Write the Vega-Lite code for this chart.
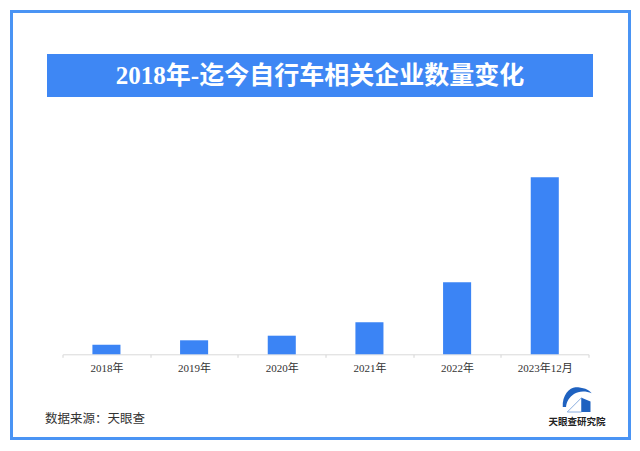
{
  "$schema": "https://vega.github.io/schema/vega-lite/v6.json",
  "width": 618,
  "height": 427,
  "autosize": {"type": "none"},
  "padding": {"left": 11.5, "top": 11.5, "right": 10.5, "bottom": 12.5},
  "background": "#ffffff",
  "config": {
    "view": {"stroke": "#4a94f4", "strokeWidth": 3, "fill": "#ffffff"},
    "font": "Liberation Serif, Noto Sans CJK SC"
  },
  "layer": [
    {
      "data": {"values": [{"title": "2018年-迄今自行车相关企业数量变化"}]},
      "layer": [
        {
          "mark": {"type": "rect", "color": "#3e87f4"},
          "encoding": {
            "x": {"datum": "banner", "type": "nominal", "scale": {"type": "band", "domain": ["banner"], "range": [35.5, 581.5], "paddingInner": 0, "paddingOuter": 0}, "axis": null},
            "y": {"datum": "banner", "type": "nominal", "scale": {"type": "band", "domain": ["banner"], "range": [42.5, 85.5], "paddingInner": 0, "paddingOuter": 0}, "axis": null}
          }
        },
        {
          "mark": {"type": "text", "color": "#ffffff", "fontSize": 25, "fontWeight": "bold", "font": "Liberation Serif, Noto Sans CJK SC", "baseline": "middle", "align": "center"},
          "encoding": {
            "x": {"datum": "banner", "type": "nominal", "axis": null},
            "y": {"datum": "banner", "type": "nominal", "axis": null},
            "text": {"field": "title"}
          }
        }
      ]
    },
    {
      "data": {"values": [
        {"year": "2018年", "count": 9.5},
        {"year": "2019年", "count": 14},
        {"year": "2020年", "count": 18.6},
        {"year": "2021年", "count": 32},
        {"year": "2022年", "count": 72},
        {"year": "2023年12月", "count": 177}
      ]},
      "layer": [
        {
          "mark": {"type": "bar", "color": "#3b84f5", "width": {"band": 0.32}},
          "encoding": {
            "x": {
              "field": "year", "type": "nominal", "sort": null,
              "scale": {"type": "band", "range": [51.1, 577.1], "paddingInner": 0, "paddingOuter": 0},
              "axis": {
                "orient": "bottom", "offset": -84.2, "title": null, "labelAngle": 0,
                "domainColor": "#d9d9d9", "domainWidth": 1,
                "tickBand": "extent", "tickSize": 3, "tickColor": "#d4d4d4", "tickWidth": 1,
                "labelFont": "Liberation Serif, Noto Sans CJK SC", "labelFontSize": 11, "labelColor": "#333333",
                "labelPadding": 5, "grid": false
              }
            },
            "y": {"field": "count", "type": "quantitative", "scale": {"domain": [0, 177], "range": [342.8, 165.8], "nice": false, "zero": true}, "axis": null}
          }
        }
      ]
    },
    {
      "data": {"values": [{"source": "数据来源：天眼查", "brand": "天眼查研究院"}]},
      "layer": [
        {
          "mark": {"type": "text", "align": "left", "baseline": "middle", "fontSize": 12.5, "color": "#333333", "font": "Noto Sans CJK SC"},
          "encoding": {
            "x": {"datum": "source", "type": "nominal", "scale": {"type": "point", "domain": ["source", "logo"], "range": [33.5, 565.5], "padding": 0}, "axis": null},
            "y": {"datum": "text", "type": "nominal", "scale": {"type": "point", "domain": ["icon", "text"], "range": [388.5, 407.5], "padding": 0}, "axis": null},
            "text": {"field": "source"}
          }
        },
        {
          "mark": {"type": "text", "align": "center", "baseline": "middle", "fontSize": 9.5, "fontWeight": "bold", "color": "#222222", "font": "Noto Sans CJK SC", "dy": 2.7},
          "encoding": {
            "x": {"datum": "logo", "type": "nominal", "axis": null},
            "y": {"datum": "text", "type": "nominal", "axis": null},
            "text": {"field": "brand"}
          }
        },
        {
          "mark": {"type": "point", "shape": "M -0.95 0.47 C -1.0 -0.3 -0.5 -0.85 -0.1 -0.85 C 0.4 -0.85 0.8 -0.7 0.98 -0.45 C 0.6 -0.62 0.1 -0.62 -0.2 -0.4 C -0.5 -0.2 -0.7 0.1 -0.73 0.47 Z", "size": 900, "filled": true, "color": "#1f62c0", "opacity": 1},
          "encoding": {
            "x": {"datum": "logo", "type": "nominal", "axis": null},
            "y": {"datum": "icon", "type": "nominal", "axis": null}
          }
        },
        {
          "mark": {"type": "point", "shape": "M -0.65 0.8 L 0.3 -0.15 L 0.3 0.8 Z", "size": 900, "filled": false, "color": "#8aaee0", "strokeWidth": 1, "opacity": 1},
          "encoding": {
            "x": {"datum": "logo", "type": "nominal", "axis": null},
            "y": {"datum": "icon", "type": "nominal", "axis": null}
          }
        },
        {
          "mark": {"type": "point", "shape": "M 0.3 -0.15 L 0.9 0.1 L 0.9 0.8 L 0.3 0.8 Z", "size": 900, "filled": true, "color": "#1f62c0", "opacity": 1},
          "encoding": {
            "x": {"datum": "logo", "type": "nominal", "axis": null},
            "y": {"datum": "icon", "type": "nominal", "axis": null}
          }
        }
      ]
    }
  ],
  "resolve": {"scale": {"x": "independent", "y": "independent"}, "axis": {"x": "independent", "y": "independent"}}
}
